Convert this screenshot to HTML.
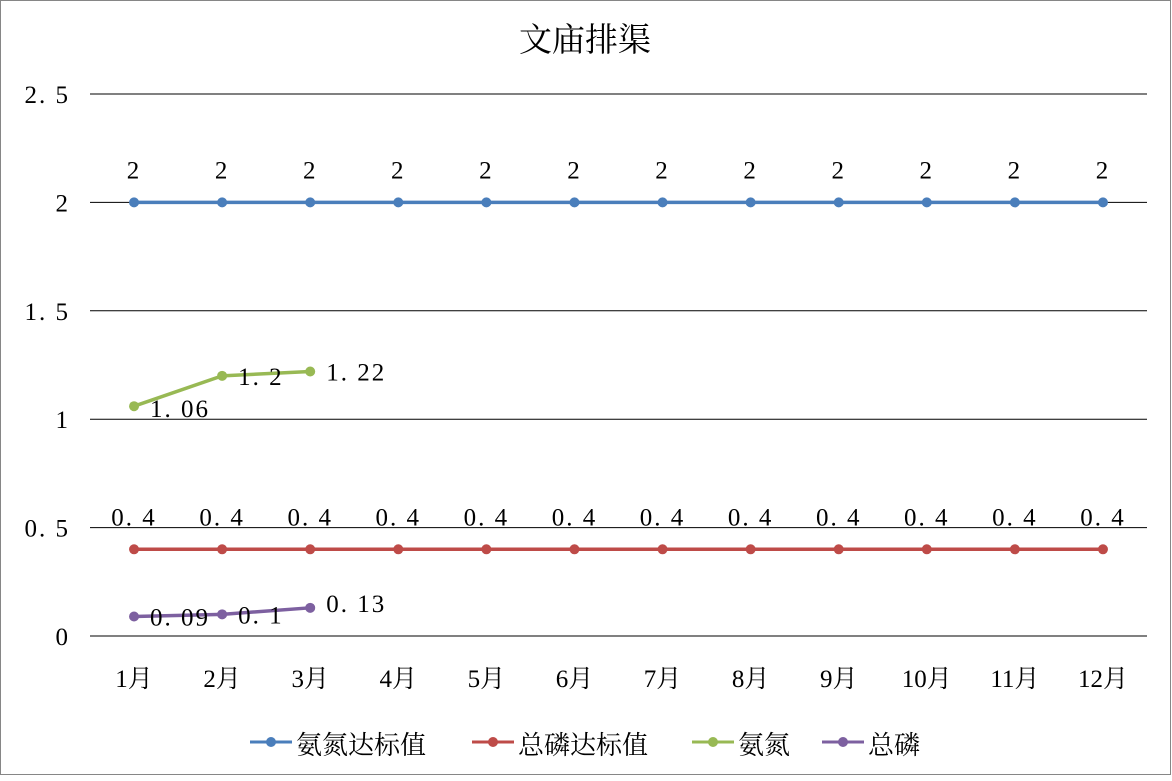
<!DOCTYPE html>
<html><head><meta charset="utf-8"><style>
body{margin:0;background:#fff}
svg text{font-family:"Liberation Serif","Noto Serif CJK SC","Noto Sans CJK SC",serif;fill:#000}
</style></head><body>
<svg id="chart" width="1172" height="776" xmlns="http://www.w3.org/2000/svg">
<rect x="0.5" y="0.5" width="1170" height="774" fill="#fff" stroke="#868686"/>
<text x="585" y="51" font-size="33" text-anchor="middle">文庙排渠</text>
<g id="grid"></g><g id="series"></g>
<g id="legend">
<g><line x1="250" y1="742" x2="292" y2="742" stroke="#4a7ebb" stroke-width="3"/><circle cx="271" cy="742" r="5" fill="#4a7ebb"/><text x="296" y="754" font-size="26">氨氮达标值</text></g>
<g><line x1="472" y1="742" x2="514" y2="742" stroke="#be4b48" stroke-width="3"/><circle cx="493" cy="742" r="5" fill="#be4b48"/><text x="518" y="754" font-size="26">总磷达标值</text></g>
<g><line x1="692" y1="742" x2="734" y2="742" stroke="#98b954" stroke-width="3"/><circle cx="713" cy="742" r="5" fill="#98b954"/><text x="738" y="754" font-size="26">氨氮</text></g>
<g><line x1="822" y1="742" x2="864" y2="742" stroke="#7d60a0" stroke-width="3"/><circle cx="843" cy="742" r="5" fill="#7d60a0"/><text x="868" y="754" font-size="26">总磷</text></g>
</g>
</svg>
<script>
const categories=["1月","2月","3月","4月","5月","6月","7月","8月","9月","10月","11月","12月"];
const yTicks=[0,0.5,1,1.5,2,2.5];
const yTickLabels=["0","0. 5","1","1. 5","2","2. 5"];
const ammoniaStd=[2,2,2,2,2,2,2,2,2,2,2,2];
const phosStd=[0.4,0.4,0.4,0.4,0.4,0.4,0.4,0.4,0.4,0.4,0.4,0.4];
const ammonia=[1.06,1.2,1.22];
const phos=[0.09,0.1,0.13];
const ammoniaLbl=["1. 06","1. 2","1. 22"];
const phosLbl=["0. 09","0. 1","0. 13"];
const NS="http://www.w3.org/2000/svg";
const X0=90,PW=1057,Y0=636,PH=542,YMAX=2.5;
const x=i=>X0+PW/categories.length*(i+0.5);
const y=v=>Y0-v/YMAX*PH;
function mk(tag,attrs,parent,txt){const e=document.createElementNS(NS,tag);for(const k in attrs)e.setAttribute(k,attrs[k]);if(txt!==undefined)e.textContent=txt;parent.appendChild(e);return e;}
const grid=document.getElementById('grid'),ser=document.getElementById('series');
yTicks.forEach((t,i)=>{
 const l=mk('line',{x1:X0,x2:X0+PW,y1:y(t),y2:y(t),stroke:'#000','stroke-width':1},grid);
 
 
 const tx=mk('text',{x:70,y:y(t)+9,'font-size':25,'letter-spacing':2,'text-anchor':'end'},grid,yTickLabels[i]);
 
 
});
categories.forEach((c,i)=>{
 const tx=mk('text',{x:x(i),y:687,'font-size':25,'text-anchor':'middle'},grid,c);
 
 
});
function series(vals,color,name,labels,lblPos){
 const g=mk('g',{},ser);
 
 
 const pl=mk('polyline',{points:vals.map((v,i)=>x(i)+','+y(v)).join(' '),fill:'none',stroke:color,'stroke-width':3.5},g);
 
 
 vals.forEach((v,i)=>{
  const c=mk('circle',{cx:x(i),cy:y(v),r:5,fill:color},g);
  
  
  const p=lblPos(i,v);
  const t=mk('text',{x:p[0],y:p[1],'font-size':25,'letter-spacing':2,'text-anchor':p[2]},g,labels[i]);
  
  
 });
}
series(ammoniaStd,'#4a7ebb','ammonia-standard',ammoniaStd.map(String),(i,v)=>[x(i),y(v)-24,'middle']);
series(phosStd,'#be4b48','phosphorus-standard',phosStd.map(()=>"0. 4"),(i,v)=>[x(i),y(v)-24,'middle']);
series(ammonia,'#98b954','ammonia',ammoniaLbl,(i,v)=>[x(i)+16,y(v)+(i==0?11:9),'start']);
series(phos,'#7d60a0','phosphorus',phosLbl,(i,v)=>[x(i)+16,y(v)+(i==2?4:9),'start']);
</script>
</body></html>
